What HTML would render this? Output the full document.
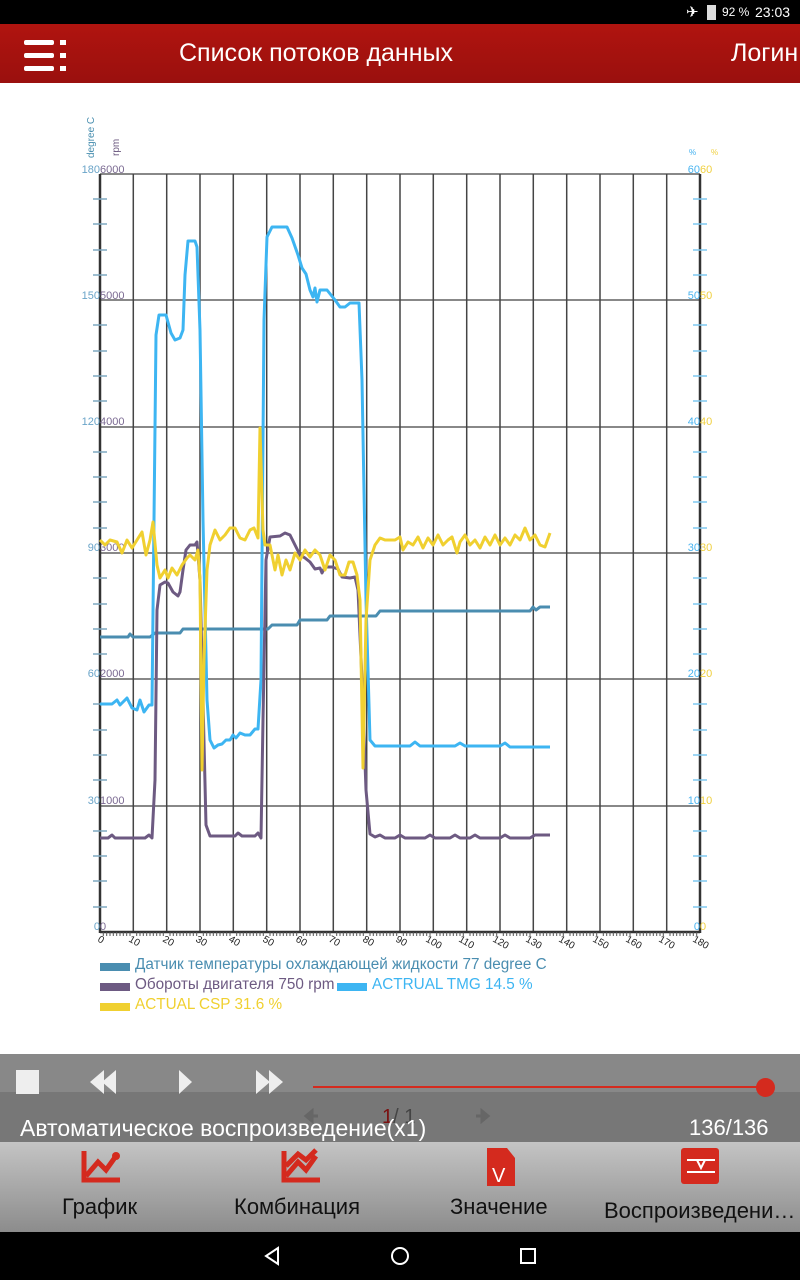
<!DOCTYPE html>
<html><head><meta charset="utf-8"><style>
body{margin:0;width:800px;height:1280px;position:relative;overflow:hidden;background:#fff;font-family:"Liberation Sans",sans-serif}
.abs{position:absolute}
</style></head><body>
<div class="abs" style="left:0;top:0;width:800px;height:24px;background:#000;color:#fff;font-size:13px">
<span class="abs" style="left:686px;top:3px;font-size:15px">✈</span>
<span class="abs" style="left:707px;top:5px;width:9px;height:15px;background:#ddd"></span>
<span class="abs" style="left:722px;top:5px;font-size:12px">92 %</span>
<span class="abs" style="left:755px;top:4px;font-size:14px">23:03</span></div>
<div class="abs" style="left:0;top:24px;width:800px;height:59px;background:linear-gradient(#b0140f,#9a100e)">
<div class="abs" style="left:24px;top:16px;width:30px;height:5px;background:#fff;border-radius:2px"></div>
<div class="abs" style="left:24px;top:29px;width:30px;height:5px;background:#fff;border-radius:2px"></div>
<div class="abs" style="left:24px;top:42px;width:30px;height:5px;background:#fff;border-radius:2px"></div>
<div class="abs" style="left:60px;top:16px;width:6px;height:5px;background:#fff"></div>
<div class="abs" style="left:60px;top:29px;width:6px;height:5px;background:#fff"></div>
<div class="abs" style="left:60px;top:42px;width:6px;height:5px;background:#fff"></div>
<span class="abs" style="left:179px;top:15px;color:#fff;font-size:25px">Список потоков данных</span>
<span class="abs" style="left:731px;top:15px;color:#fff;font-size:25px;white-space:nowrap">Логин</span></div>

<svg class="abs" style="left:0;top:83px" width="800" height="971" viewBox="0 83 800 971" font-family="Liberation Sans, sans-serif">
<g stroke="#888" stroke-width="2">
<line x1="100" y1="174" x2="700" y2="174"/><line x1="100" y1="300" x2="700" y2="300"/><line x1="100" y1="427" x2="700" y2="427"/><line x1="100" y1="553" x2="700" y2="553"/><line x1="100" y1="679" x2="700" y2="679"/><line x1="100" y1="806" x2="700" y2="806"/></g>
<g stroke="#444" stroke-width="1.5">
<line x1="133.3" y1="174" x2="133.3" y2="932"/><line x1="166.7" y1="174" x2="166.7" y2="932"/><line x1="200" y1="174" x2="200" y2="932"/><line x1="233.3" y1="174" x2="233.3" y2="932"/><line x1="266.7" y1="174" x2="266.7" y2="932"/><line x1="300" y1="174" x2="300" y2="932"/><line x1="333.3" y1="174" x2="333.3" y2="932"/><line x1="366.7" y1="174" x2="366.7" y2="932"/><line x1="400" y1="174" x2="400" y2="932"/><line x1="433.3" y1="174" x2="433.3" y2="932"/><line x1="466.7" y1="174" x2="466.7" y2="932"/><line x1="500" y1="174" x2="500" y2="932"/><line x1="533.3" y1="174" x2="533.3" y2="932"/><line x1="566.7" y1="174" x2="566.7" y2="932"/><line x1="600" y1="174" x2="600" y2="932"/><line x1="633.3" y1="174" x2="633.3" y2="932"/><line x1="666.7" y1="174" x2="666.7" y2="932"/></g>
<g stroke="#333" stroke-width="2.5"><line x1="100" y1="174" x2="100" y2="933"/><line x1="700" y1="174" x2="700" y2="933"/><line x1="100" y1="932" x2="700" y2="932"/></g>
<g stroke="#7fa8c0" stroke-width="1.5">
<path d="M93 199h14M93 224h14M93 250h14M93 275h14M93 325h14M93 351h14M93 376h14M93 401h14M93 452h14M93 477h14M93 502h14M93 528h14M93 578h14M93 604h14M93 629h14M93 654h14M93 704h14M93 730h14M93 755h14M93 780h14M93 831h14M93 856h14M93 881h14M93 907h14"/></g>
<g stroke="#7fc8f0" stroke-width="1.5">
<path d="M693 199h14M693 224h14M693 250h14M693 275h14M693 325h14M693 351h14M693 376h14M693 401h14M693 452h14M693 477h14M693 502h14M693 528h14M693 578h14M693 604h14M693 629h14M693 654h14M693 704h14M693 730h14M693 755h14M693 780h14M693 831h14M693 856h14M693 881h14M693 907h14"/></g>
<path stroke="#555" stroke-width="1" d="M103.3 932v4M106.7 932v4M110 932v4M113.3 932v4M116.7 932v4M120 932v4M123.3 932v4M126.7 932v4M130 932v4M136.7 932v4M140 932v4M143.3 932v4M146.7 932v4M150 932v4M153.3 932v4M156.7 932v4M160 932v4M163.3 932v4M170 932v4M173.3 932v4M176.7 932v4M180 932v4M183.3 932v4M186.7 932v4M190 932v4M193.3 932v4M196.7 932v4M203.3 932v4M206.7 932v4M210 932v4M213.3 932v4M216.7 932v4M220 932v4M223.3 932v4M226.7 932v4M230 932v4M236.7 932v4M240 932v4M243.3 932v4M246.7 932v4M250 932v4M253.3 932v4M256.7 932v4M260 932v4M263.3 932v4M270 932v4M273.3 932v4M276.7 932v4M280 932v4M283.3 932v4M286.7 932v4M290 932v4M293.3 932v4M296.7 932v4M303.3 932v4M306.7 932v4M310 932v4M313.3 932v4M316.7 932v4M320 932v4M323.3 932v4M326.7 932v4M330 932v4M336.7 932v4M340 932v4M343.3 932v4M346.7 932v4M350 932v4M353.3 932v4M356.7 932v4M360 932v4M363.3 932v4M370 932v4M373.3 932v4M376.7 932v4M380 932v4M383.3 932v4M386.7 932v4M390 932v4M393.3 932v4M396.7 932v4M403.3 932v4M406.7 932v4M410 932v4M413.3 932v4M416.7 932v4M420 932v4M423.3 932v4M426.7 932v4M430 932v4M436.7 932v4M440 932v4M443.3 932v4M446.7 932v4M450 932v4M453.3 932v4M456.7 932v4M460 932v4M463.3 932v4M470 932v4M473.3 932v4M476.7 932v4M480 932v4M483.3 932v4M486.7 932v4M490 932v4M493.3 932v4M496.7 932v4M503.3 932v4M506.7 932v4M510 932v4M513.3 932v4M516.7 932v4M520 932v4M523.3 932v4M526.7 932v4M530 932v4M536.7 932v4M540 932v4M543.3 932v4M546.7 932v4M550 932v4M553.3 932v4M556.7 932v4M560 932v4M563.3 932v4M570 932v4M573.3 932v4M576.7 932v4M580 932v4M583.3 932v4M586.7 932v4M590 932v4M593.3 932v4M596.7 932v4M603.3 932v4M606.7 932v4M610 932v4M613.3 932v4M616.7 932v4M620 932v4M623.3 932v4M626.7 932v4M630 932v4M636.7 932v4M640 932v4M643.3 932v4M646.7 932v4M650 932v4M653.3 932v4M656.7 932v4M660 932v4M663.3 932v4M670 932v4M673.3 932v4M676.7 932v4M680 932v4M683.3 932v4M686.7 932v4M690 932v4M693.3 932v4M696.7 932v4"/>
<text transform="translate(94,158) rotate(-90)" font-size="10" fill="#4a8fb0">degree C</text>
<text transform="translate(119,156) rotate(-90)" font-size="10" fill="#6c5a80">rpm</text>
<text x="689" y="155" font-size="8" fill="#40b0f0">%</text><text x="711" y="155" font-size="8" fill="#f0d040">%</text>
<g font-size="11">
<g fill="#6aa4c8" text-anchor="end"><text x="100" y="173">180</text><text x="100" y="299">150</text><text x="100" y="425">120</text><text x="100" y="551">90</text><text x="100" y="677">60</text><text x="100" y="804">30</text><text x="100" y="930">0</text></g>
<g fill="#7b6a92"><text x="100" y="173">6000</text><text x="100" y="299">5000</text><text x="100" y="425">4000</text><text x="100" y="551">3000</text><text x="100" y="677">2000</text><text x="100" y="804">1000</text><text x="100" y="930">0</text></g>
<g fill="#4ab4f0" text-anchor="end"><text x="700" y="173">60</text><text x="700" y="299">50</text><text x="700" y="425">40</text><text x="700" y="551">30</text><text x="700" y="677">20</text><text x="700" y="804">10</text><text x="700" y="930">0</text></g>
<g fill="#f0d040"><text x="700" y="173">60</text><text x="700" y="299">50</text><text x="700" y="425">40</text><text x="700" y="551">30</text><text x="700" y="677">20</text><text x="700" y="804">10</text><text x="700" y="930">0</text></g>
</g>
<g font-size="10" fill="#222">
<text transform="translate(97,941) rotate(30)">0</text><text transform="translate(128,941) rotate(30)">10</text><text transform="translate(162,941) rotate(30)">20</text><text transform="translate(195,941) rotate(30)">30</text><text transform="translate(228,941) rotate(30)">40</text><text transform="translate(262,941) rotate(30)">50</text><text transform="translate(295,941) rotate(30)">60</text><text transform="translate(328,941) rotate(30)">70</text><text transform="translate(362,941) rotate(30)">80</text><text transform="translate(395,941) rotate(30)">90</text><text transform="translate(425,941) rotate(30)">100</text><text transform="translate(458,941) rotate(30)">110</text><text transform="translate(492,941) rotate(30)">120</text><text transform="translate(525,941) rotate(30)">130</text><text transform="translate(558,941) rotate(30)">140</text><text transform="translate(592,941) rotate(30)">150</text><text transform="translate(625,941) rotate(30)">160</text><text transform="translate(658,941) rotate(30)">170</text><text transform="translate(692,941) rotate(30)">180</text>
</g>
<g fill="none" stroke-width="3" stroke-linejoin="round">
<polyline stroke="#4a8db0" points="100,637 128,637 130,634 133,637 150,637 155,633 180,633 183,629 268,629 272,625 297,625 300,620 327,620 330,616 376,616 380,611 530,611 533,607 536,610 540,607 550,607"/>
<polyline stroke="#3db5f2" points="100,704 112,704 117,700 120,705 127,698 132,708 137,710 140,700 144,712 149,705 152,705 156,335 159,315 166,315 171,333 175,340 180,338 183,330 185,275 188,241 195,241 197,247 200,330 203,520 207,700 210,740 214,748 218,745 222,744 226,740 230,740 233,735 236,738 240,733 245,735 250,735 255,729 258,729 261,680 264,320 267,237 272,227 287,227 292,238 298,255 302,268 306,274 310,290 313,297 315,288 317,302 320,290 327,290 335,300 340,307 345,307 350,303 359,303 362,380 366,600 370,740 375,746 410,746 415,742 420,746 455,746 460,743 465,746 500,746 505,743 510,747 550,747"/>
<polyline stroke="#6d5a82" points="100,838 108,838 112,835 115,838 145,838 149,835 152,838 155,780 157,610 160,585 165,582 168,583 173,592 178,596 180,592 183,570 186,550 190,545 195,545 197,542 200,580 203,700 206,825 210,836 235,836 238,833 242,836 255,836 258,833 261,838 263,720 266,560 270,537 280,536 285,533 290,535 295,545 300,555 305,558 310,562 315,569 320,568 322,573 325,567 332,567 338,569 342,577 350,578 355,577 358,590 362,680 366,790 370,834 375,837 380,835 385,838 395,838 400,835 405,838 425,838 430,835 435,838 450,838 455,835 460,838 470,838 475,835 480,838 500,838 505,835 510,838 530,838 535,835 540,835 550,835"/>
<polyline stroke="#f0d030" points="100,540 105,545 110,540 117,542 122,553 127,540 132,548 137,540 142,532 146,555 150,540 153,522 157,565 160,578 165,570 168,578 172,568 177,575 182,565 187,558 190,555 195,560 198,550 200,580 202,770 204,660 207,570 210,545 215,530 220,540 225,535 230,528 235,528 240,538 245,540 250,530 254,528 258,538 260,428 263,530 265,545 270,545 275,570 278,555 282,575 286,560 290,570 295,553 300,560 305,550 310,557 315,550 320,555 325,570 330,555 335,560 340,575 345,575 349,562 353,562 357,575 360,600 363,768 366,620 370,560 375,545 380,538 385,540 395,540 400,537 403,550 408,542 413,545 418,537 423,548 428,538 433,545 438,535 443,545 448,540 452,537 457,553 460,542 465,535 470,545 475,540 480,548 485,537 490,545 495,535 500,545 505,538 510,545 515,535 520,540 525,528 530,540 535,535 540,545 545,547 550,533"/>
</g>
<rect x="100" y="963" width="30" height="8" fill="#4a8db0"/>
<text x="135" y="969" font-size="15.3" fill="#4a8db0">Датчик температуры охлаждающей жидкости 77 degree C</text>
<rect x="100" y="983" width="30" height="8" fill="#6d5a82"/>
<text x="135" y="989" font-size="15.3" fill="#6d5a82">Обороты двигателя 750 rpm</text>
<rect x="337" y="983" width="30" height="8" fill="#3db5f2"/>
<text x="372" y="989" font-size="15.3" fill="#3db5f2">ACTRUAL TMG 14.5 %</text>
<rect x="100" y="1003" width="30" height="8" fill="#f0d030"/>
<text x="135" y="1009" font-size="15.3" fill="#f0d030">ACTUAL CSP 31.6 %</text>
</svg>

<div class="abs" style="left:0;top:1054px;width:800px;height:38px;background:#888"></div>
<div class="abs" style="left:0;top:1092px;width:800px;height:50px;background:#777"></div>
<div class="abs" style="left:16px;top:1070px;width:23px;height:24px;background:#eee"></div>
<svg class="abs" style="left:80px;top:1068px" width="220" height="28">
<polygon points="10,14 24,2 24,26" fill="#eee"/><polygon points="22,14 36,2 36,26" fill="#eee"/>
<polygon points="99,2 112,14 99,26" fill="#eee"/>
<polygon points="176,2 190,14 176,26" fill="#eee"/><polygon points="189,2 203,14 189,26" fill="#eee"/>
</svg>
<div class="abs" style="left:313px;top:1086px;width:452px;height:2px;background:#d42a1e"></div>
<div class="abs" style="left:756px;top:1078px;width:19px;height:19px;border-radius:50%;background:#d42a1e"></div>
<svg class="abs" style="left:300px;top:1108px" width="200" height="16">
<path d="M6 8h12M6 8l6-5v10z" stroke="#666" stroke-width="3" fill="#666"/>
<path d="M182 8h12M194 8l-6-5v10z" stroke="#666" stroke-width="3" fill="#666" transform="translate(-6 0)"/>
</svg>
<span class="abs" style="left:382px;top:1106px;color:#444;font-size:20px"><span style="color:#7a1010">1</span>/ 1</span>
<span class="abs" style="left:20px;top:1115px;color:#fff;font-size:23px">Автоматическое воспроизведение(x1)</span>
<span class="abs" style="left:689px;top:1115px;color:#fff;font-size:22px">136/136</span>
<div class="abs" style="left:0;top:1142px;width:800px;height:90px;background:linear-gradient(#c4c4c4,#8c8c8c)"></div>
<svg class="abs" style="left:0;top:1142px" width="800" height="45">
<path d="M84 9v29h36M86 34l12-14 8 8 10-14" stroke="#d42a1e" stroke-width="5" fill="none"/>
<circle cx="116" cy="14" r="4" fill="#d42a1e"/>
<path d="M284 9v29h36M286 34l12-14 8 8 10-14M286 24l12-12 8 6 10-10" stroke="#d42a1e" stroke-width="5" fill="none"/>
<path d="M487 6h20l8 10v28h-28z" fill="#d42a1e"/><text x="492" y="40" font-size="20" fill="#fff">V</text>
<rect x="681" y="6" width="38" height="36" rx="3" fill="#d42a1e"/><path d="M687 18h28M687 30h28M697 18l4 8 4-8" stroke="#fff" stroke-width="2" fill="none"/>
</svg>
<span class="abs" style="left:62px;top:1194px;color:#111;font-size:22px">График</span>
<span class="abs" style="left:234px;top:1194px;color:#111;font-size:22px">Комбинация</span>
<span class="abs" style="left:450px;top:1194px;color:#111;font-size:22px">Значение</span>
<span class="abs" style="left:604px;top:1198px;color:#111;font-size:22px;white-space:nowrap">Воспроизведени…</span>
<div class="abs" style="left:0;top:1232px;width:800px;height:48px;background:#000"></div>
<svg class="abs" style="left:0;top:1232px" width="800" height="48">
<polygon points="278,16 266,24 278,32" fill="none" stroke="#fff" stroke-width="2"/>
<circle cx="400" cy="24" r="8" fill="none" stroke="#fff" stroke-width="2"/>
<rect x="521" y="17" width="14" height="14" fill="none" stroke="#fff" stroke-width="2"/>
</svg>
</body></html>
